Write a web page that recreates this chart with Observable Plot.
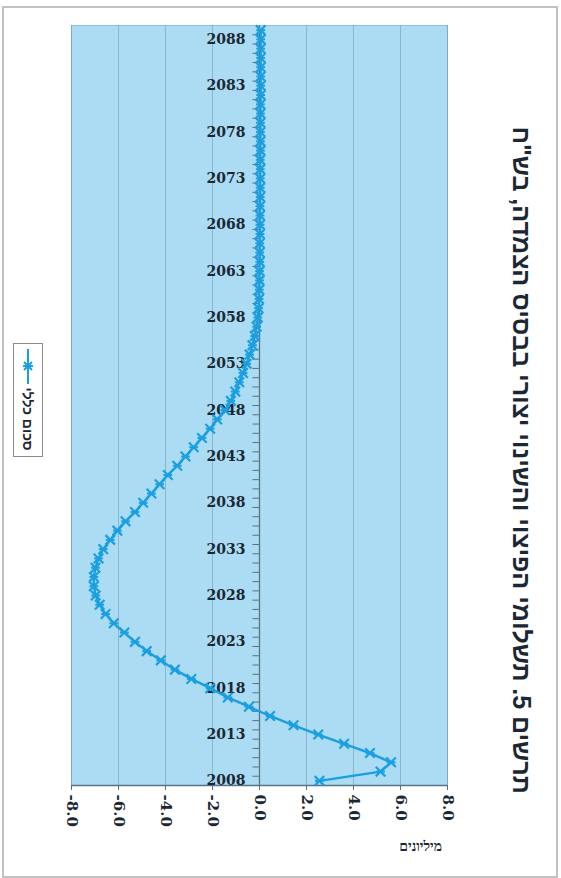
<!DOCTYPE html>
<html lang="he">
<head>
<meta charset="utf-8">
<script src="https://cdn.jsdelivr.net/npm/d3@7"></script>
<script src="https://cdn.jsdelivr.net/npm/@observablehq/plot@0.6"></script>
<style>
  html, body { margin: 0; padding: 0; background: #ffffff; }
  #wrap { position: relative; width: 561px; height: 878px; overflow: hidden; }
  #outer { position: absolute; left: 2px; top: 6px; width: 552px; height: 868px; border: 2px solid #c2c2c2; box-sizing: content-box; }
  #chart { position: absolute; left: 0; top: 0; }
  #title { position: absolute; left: 521px; top: 460px; white-space: nowrap; direction: rtl;
           font-family: "Liberation Sans", Arial, sans-serif; font-weight: bold; font-size: 25px; color: #1b2733;
           transform: translate(-50%, -50%) rotate(90deg); }
  #legend { position: absolute; left: 13px; top: 343px; width: 28px; height: 112px; border: 1px solid #8a8a8a; background: #fff; }
  #legend svg { position: absolute; left: 0; top: 0; }
  #legtext { position: absolute; left: 28px; top: 419px; white-space: nowrap; direction: rtl;
             font-family: "Liberation Sans", Arial, sans-serif; font-weight: bold; font-size: 14px; color: #1b2733;
             transform: translate(-50%, -50%) rotate(90deg); }
  #unit { position: absolute; left: 372px; top: 839px; width: 70px; text-align: right; direction: rtl;
          font-family: "Liberation Serif", "Times New Roman", serif; font-weight: bold; font-size: 14px; color: #1b2733; }
</style>
</head>
<body>
<div id="wrap">
  <div id="outer"></div>
  <div id="chart"></div>
  <div id="title"></div>
  <div id="legend"></div>
  <div id="legtext"></div>
  <div id="unit"></div>
</div>
<script>
// ---- data ----
const titleText = "תרשים 5. תשלומי הפיצוי והשינוי יצורי בבסיס הצמדה, בש\"ח";
const seriesName = "סכום כללי";
const unitLabel = "מיליונים";
const years = [
  2008,2009,2010,2011,2012,2013,2014,2015,2016,2017,2018,2019,2020,2021,2022,2023,2024,2025,2026,2027,
  2028,2029,2030,2031,2032,2033,2034,2035,2036,2037,2038,2039,2040,2041,2042,2043,2044,2045,2046,2047,
  2048,2049,2050,2051,2052,2053,2054,2055,2056,2057,2058,2059,2060,2061,2062,2063,2064,2065,2066,2067,
  2068,2069,2070,2071,2072,2073,2074,2075,2076,2077,2078,2079,2080,2081,2082,2083,2084,2085,2086,2087,
  2088,2089
];
const values = [
  2.55, 5.15, 5.6, 4.7, 3.6, 2.5, 1.45, 0.45, -0.45, -1.35, -2.1, -2.9, -3.6, -4.2, -4.8, -5.3, -5.75, -6.2, -6.55, -6.8,
  -6.97, -7.05, -7.05, -6.98, -6.85, -6.65, -6.35, -6.05, -5.7, -5.3, -4.95, -4.6, -4.25, -3.9, -3.5, -3.15, -2.8, -2.45, -2.1, -1.8,
  -1.47, -1.22, -1.03, -0.86, -0.7, -0.55, -0.42, -0.3, -0.2, -0.12, -0.07, -0.04, -0.02, -0.01, 0.0, 0.0, 0.01, 0.01, 0.01, 0.02,
  0.02, 0.02, 0.02, 0.03, 0.03, 0.03, 0.03, 0.03, 0.04, 0.04, 0.04, 0.04, 0.04, 0.04, 0.05, 0.05, 0.05, 0.05, 0.05, 0.05,
  0.05, 0.05
];
const yearLabels = [2008,2013,2018,2023,2028,2033,2038,2043,2048,2053,2058,2063,2068,2073,2078,2083,2088];
const valueTicks = [-8, -6, -4, -2, 0, 2, 4, 6, 8];

// ---- build ----
const lineColor = "#1a9fe0";
const axisColor = "#5a7282";
const textColor = "#1b2733";
const tickFont = "DejaVu Serif, Liberation Serif, serif";
const series = years.map((y, i) => ({year: y, value: values[i]}));

const hbar = {
  draw(context, size) {
    const r = Math.sqrt(size / Math.PI);
    context.moveTo(-r, 0);
    context.lineTo(r, 0);
  }
};

const chart = Plot.plot({
  width: 561,
  height: 878,
  marginLeft: 71,
  marginRight: 114,
  marginTop: 25,
  marginBottom: 93,
  style: {background: "transparent", overflow: "visible"},
  x: {domain: [-8, 8]},
  y: {domain: [2007.5, 2089.5], axis: null},
  marks: [
    Plot.frame({fill: "#abdcf4", stroke: "#8cc3e0"}),
    Plot.gridX(valueTicks, {stroke: "#6e96ad", strokeOpacity: 0.55, strokeWidth: 1}),
    Plot.ruleY([2007.5], {stroke: axisColor, strokeWidth: 1.5}),
    Plot.ruleX([0], {stroke: axisColor, strokeWidth: 1.3}),
    Plot.ruleY(years, {y: d => d - 0.5, x1: -0.28, x2: 0, stroke: axisColor, strokeWidth: 1}),
    Plot.text(yearLabels, {
      x: () => 0, y: d => d, text: d => String(d), dx: -14, textAnchor: "end",
      fontFamily: tickFont, fontWeight: "bold", fontSize: 14, fill: textColor
    }),
    Plot.axisX(valueTicks, {
      anchor: "bottom", tickFormat: d => d.toFixed(1), tickRotate: 90, tickSize: 5, tickPadding: 4,
      fontSize: 15, fontWeight: "bold", fontFamily: tickFont,
      stroke: axisColor, fill: textColor, label: null
    }),
    Plot.line(series, {x: "value", y: "year", stroke: lineColor, strokeWidth: 2.4}),
    Plot.dot(series, {x: "value", y: "year", symbol: "times", r: 4.4, stroke: lineColor, strokeWidth: 2.2}),
    Plot.dot(series, {x: "value", y: "year", symbol: hbar, r: 4.4, stroke: lineColor, strokeWidth: 2, fill: "none"})
  ]
});
document.getElementById("chart").appendChild(chart);

document.getElementById("title").textContent = titleText;
document.getElementById("legtext").textContent = seriesName;
document.getElementById("unit").textContent = unitLabel;
document.getElementById("legend").innerHTML =
  `<svg width="28" height="112" viewBox="0 0 28 112">
     <line x1="14" y1="5" x2="14" y2="40" stroke="${lineColor}" stroke-width="2"/>
     <path d="M10,18 L18,26 M18,18 L10,26 M9,22 L19,22" stroke="${lineColor}" stroke-width="2" fill="none"/>
   </svg>`;
</script>
</body>
</html>
